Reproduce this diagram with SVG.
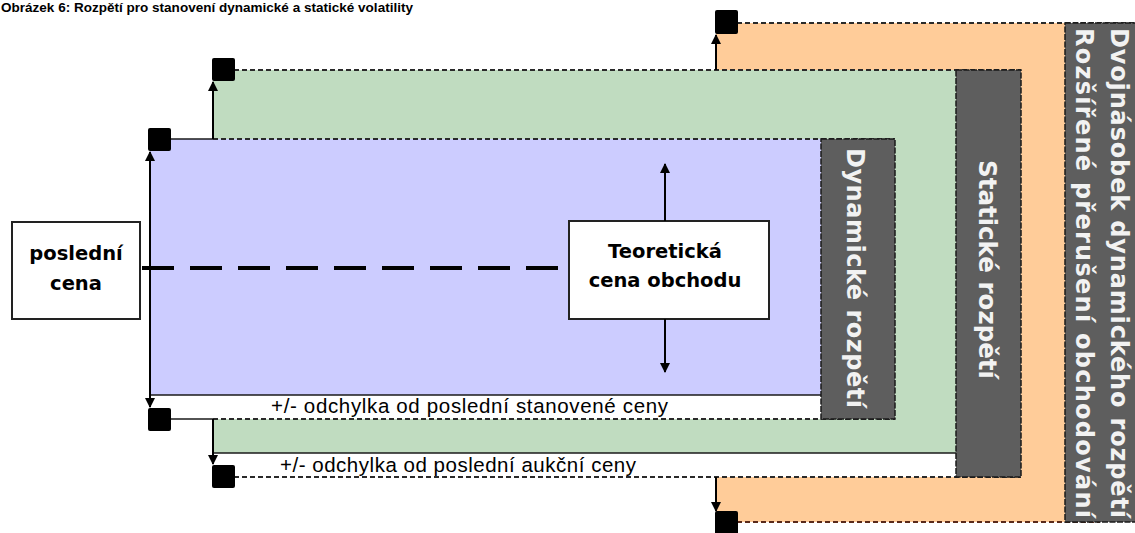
<svg xmlns="http://www.w3.org/2000/svg" width="1135" height="533" viewBox="0 0 1135 533">
<defs>
<style>
.edge{stroke:#1a1a1a;stroke-width:1.5;fill:none}
.dash{stroke:#2a2a2a;stroke-width:2;stroke-dasharray:5 3;fill:none}
.panel{fill:#5e5e5e;stroke:#1a1a1a;stroke-width:1.5;stroke-dasharray:6 1.5}
.ptxt{font-family:"DejaVu Sans",Verdana,sans-serif;font-weight:bold;font-size:24px;fill:#f2f2f2}
.btxt{font-family:"DejaVu Sans",Verdana,sans-serif;font-weight:bold;font-size:19.5px;fill:#000;text-anchor:middle}
.stxt{font-family:"Liberation Sans",Arial,sans-serif;font-size:20.5px;fill:#000}
.sq{fill:#000}
.arr{stroke:#000;stroke-width:2;fill:none;marker-end:url(#ah)}
</style>
<marker id="ah" viewBox="0 0 10 10" refX="9" refY="5" markerWidth="5" markerHeight="5" markerUnits="strokeWidth" orient="auto">
<path d="M0,0 L10,5 L0,10 z" fill="#000"/>
</marker>
</defs>
<rect width="1135" height="533" fill="#ffffff"/>
<g id="title">
<text x="1" y="12" font-family="Liberation Sans, Arial, sans-serif" font-weight="bold" font-size="13.5" textLength="412" lengthAdjust="spacing">Obrázek 6: Rozpětí pro stanovení dynamické a statické  volatility</text>
</g>
<g id="double-range">
<rect x="716" y="23" width="349" height="499" fill="#ffcc99"/>
<line class="dash" x1="737" y1="23" x2="1135" y2="23"/>
<line x1="737" y1="522" x2="1100" y2="522" stroke="#5a2a1a" stroke-width="2" stroke-dasharray="5 3"/>
</g>
<g id="static-range">
<rect x="213" y="70" width="743" height="383" fill="#c0dcc0"/>
<rect x="213" y="453" width="743" height="24" fill="#ffffff"/>
<line class="dash" x1="234" y1="70" x2="1021" y2="70"/>
<line class="dash" x1="234" y1="477" x2="1021" y2="477"/>
<line class="edge" x1="213" y1="453" x2="956" y2="453"/>
<text class="stxt" x="280" y="472" textLength="356" lengthAdjust="spacing">+/- odchylka od poslední aukční ceny</text>
</g>
<g id="dynamic-range">
<rect x="150" y="139" width="671" height="256" fill="#ccccff"/>
<rect x="150" y="395" width="671" height="24" fill="#ffffff"/>
<line class="edge" x1="170" y1="139" x2="213" y2="139"/>
<line class="dash" x1="213" y1="139" x2="895" y2="139"/>
<line class="edge" x1="170" y1="419" x2="213" y2="419"/>
<line class="dash" x1="213" y1="419" x2="895" y2="419"/>
<line class="edge" x1="150" y1="395" x2="821" y2="395"/>
<text class="stxt" x="271" y="413" textLength="397" lengthAdjust="spacing">+/- odchylka od poslední stanovené ceny</text>
</g>
<g id="panel-dynamic">
<rect class="panel" x="821" y="139" width="74" height="280"/>
<text class="ptxt" transform="translate(847,148) rotate(90)" textLength="260" lengthAdjust="spacing">Dynamické rozpětí</text>
</g>
<g id="panel-static">
<rect class="panel" x="956" y="70" width="65" height="407"/>
<text class="ptxt" transform="translate(979,160) rotate(90)" font-size="23" textLength="219" lengthAdjust="spacingAndGlyphs">Statické rozpětí</text>
</g>
<g id="panel-double">
<rect x="1065" y="23" width="72" height="499" fill="#5e5e5e" stroke="#1a1a1a" stroke-width="1.5" stroke-dasharray="6 1.5"/>
<text class="ptxt" transform="translate(1111,28) rotate(90)" textLength="490" lengthAdjust="spacing">Dvojnásobek dynamického rozpětí</text>
<text class="ptxt" transform="translate(1076,28) rotate(90)" textLength="490" lengthAdjust="spacing">Rozšířené přerušení obchodování</text>
</g>
<g id="last-price">
<rect x="12" y="222" width="128" height="97" fill="#ffffff" stroke="#222" stroke-width="2"/>
<text class="btxt" x="76" y="260">poslední</text>
<text class="btxt" x="76" y="290">cena</text>
</g>
<g id="theoretical-price">
<rect x="569" y="221" width="200" height="98" fill="#ffffff" stroke="#222" stroke-width="2"/>
<text class="btxt" x="665" y="258">Teoretická</text>
<text class="btxt" x="665" y="287">cena obchodu</text>
</g>
<g id="markers">
<rect class="sq" x="148" y="128" width="23" height="23" rx="2"/>
<rect class="sq" x="212" y="58" width="23" height="23" rx="2"/>
<rect class="sq" x="715" y="10" width="23" height="24" rx="2"/>
<rect class="sq" x="148" y="408" width="23" height="23" rx="2"/>
<rect class="sq" x="212" y="465" width="23" height="23" rx="2"/>
<rect class="sq" x="715" y="511" width="23" height="24" rx="2"/>
</g>
<g id="connectors">
<line x1="142" y1="268" x2="558" y2="268" stroke="#000" stroke-width="4" stroke-dasharray="32 16"/>
<line class="arr" x1="150" y1="268" x2="150" y2="152"/>
<line class="arr" x1="150" y1="268" x2="150" y2="407"/>
<line class="arr" x1="213" y1="139" x2="213" y2="82"/>
<line class="arr" x1="213" y1="419" x2="213" y2="464"/>
<line class="arr" x1="716" y1="70" x2="716" y2="35"/>
<line class="arr" x1="716" y1="477" x2="716" y2="511"/>
<line class="arr" x1="665" y1="221" x2="665" y2="164"/>
<line class="arr" x1="665" y1="319" x2="665" y2="372"/>
</g>
</svg>
